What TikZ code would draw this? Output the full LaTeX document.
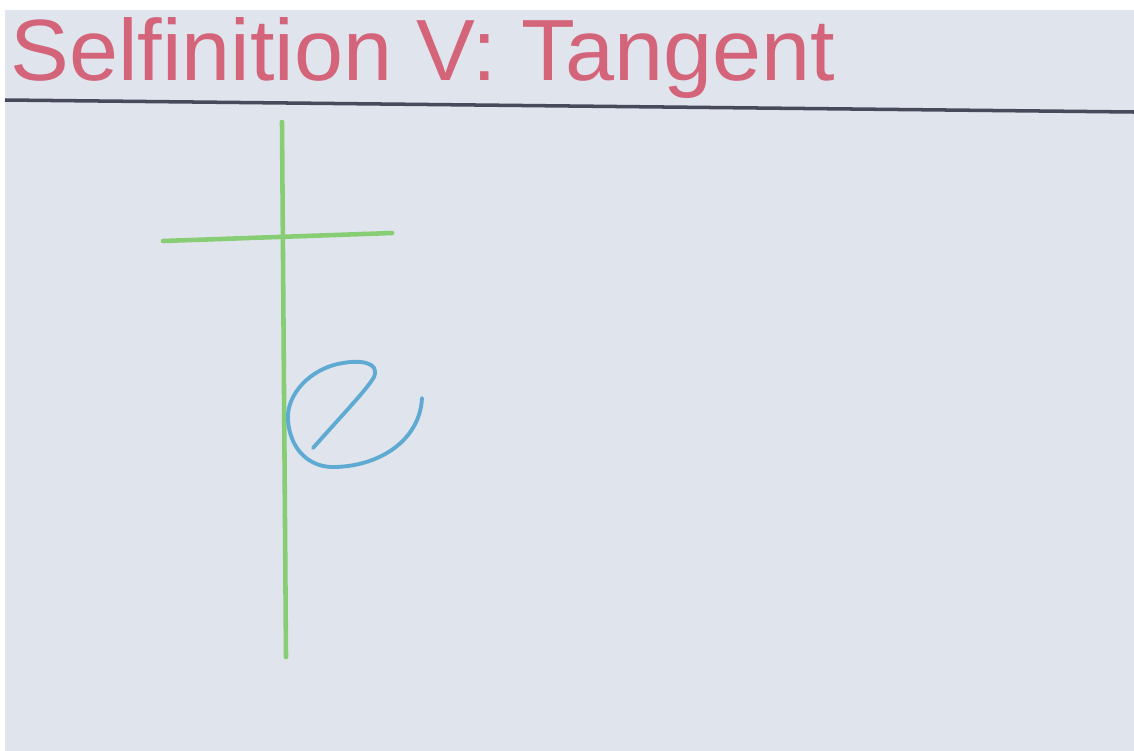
\documentclass[tikz,border=0pt]{standalone}
\usepackage{fontspec}
\setmainfont{Liberation Sans}
\definecolor{paper}{RGB}{224,228,236}
\definecolor{titlered}{RGB}{212,100,122}
\definecolor{rulegray}{RGB}{72,74,92}
\definecolor{penGreen}{RGB}{135,205,115}
\definecolor{penBlue}{RGB}{95,170,210}
\tikzset{
  greenpen/.style={draw=penGreen, line width=2.6pt, line cap=round},
  bluepen/.style={draw=penBlue, line width=2.2pt, line cap=round, line join=round},
  rulepen/.style={draw=rulegray, line width=2pt},
}
\begin{document}
\begin{tikzpicture}[x=0.02cm,y=-0.02cm]
\useasboundingbox (0,0) rectangle (1134,751);
\fill[white] (0,0) rectangle (1134,751);
\fill[paper] (5,10) rectangle (1134,751);
% title
\node[anchor=base west, inner sep=0pt, text=titlered] (title) at (10,80)
  {\resizebox{16.5cm}{1.26cm}{Selfinition V: Tangent}};
% rule under the title
\draw[rulepen] (5,100) -- (1134,112);
% green cross
\draw[greenpen] (282,122) -- (286,657);
\draw[greenpen] (163,241) -- (392,233);
% blue e
\draw[bluepen] (313,448) .. controls (345,412) and (368,388) .. (374,377)
  .. controls (380,362) and (360,360) .. (343,363)
  .. controls (310,368) and (286,395) .. (288,420)
  .. controls (290,450) and (310,468) .. (335,467)
  .. controls (380,466) and (420,440) .. (422,398);
\end{tikzpicture}
\end{document}
